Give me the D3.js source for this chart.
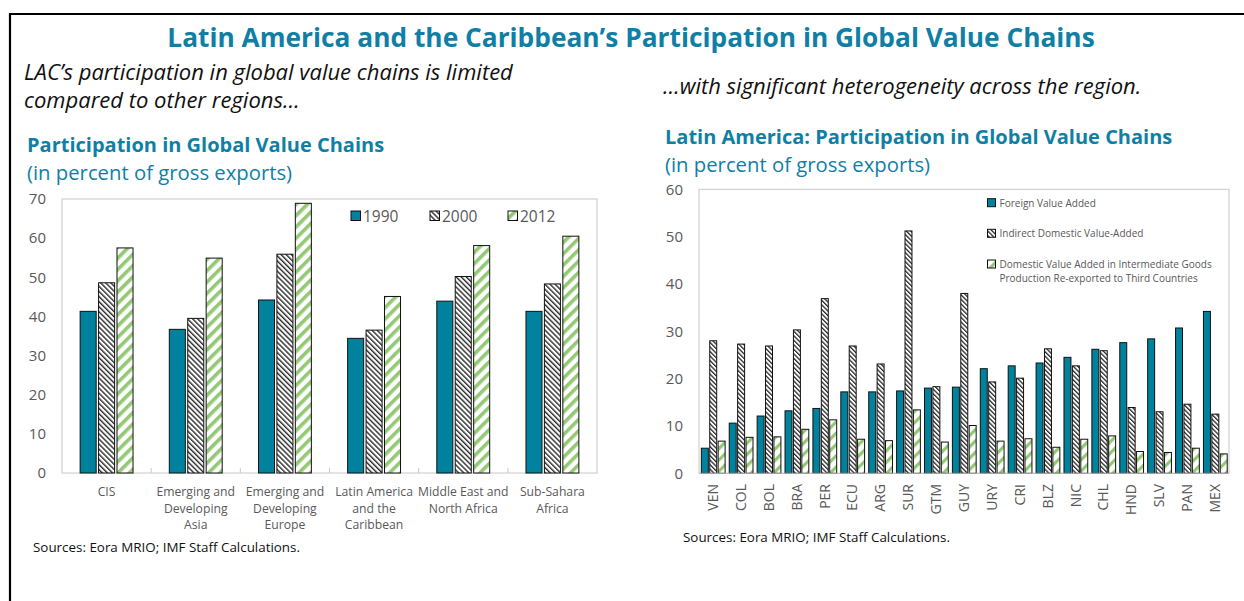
<!DOCTYPE html>
<html><head><meta charset="utf-8">
<script src="https://cdn.jsdelivr.net/npm/d3@7"></script>
<style>
html,body{margin:0;padding:0;background:#fff;}
svg{display:block;font-family:"Open Sans","Noto Sans",sans-serif;}
</style></head>
<body>
<svg id="c" width="1244" height="601"></svg>
<script>
// ---------- data ----------
const regions = ["CIS","Emerging and Developing Asia","Emerging and Developing Europe","Latin America and the Caribbean","Middle East and North Africa","Sub-Sahara Africa"];
const regionLabels = [["CIS"],["Emerging and","Developing","Asia"],["Emerging and","Developing","Europe"],["Latin America","and the","Caribbean"],["Middle East and","North Africa"],["Sub-Sahara","Africa"]];
const years = ["1990","2000","2012"];
const v1990 = [41.3,36.7,44.2,34.4,43.9,41.3];
const v2000 = [48.6,39.5,55.9,36.5,50.2,48.3];
const v2012 = [57.5,54.9,68.9,45.1,58.1,60.5];
const leftTicks = [0,10,20,30,40,50,60,70];

const countries = ["VEN","COL","BOL","BRA","PER","ECU","ARG","SUR","GTM","GUY","URY","CRI","BLZ","NIC","CHL","HND","SLV","PAN","MEX"];
const seriesNames = ["Foreign Value Added","Indirect Domestic Value-Added","Domestic Value Added in Intermediate Goods|Production Re-exported to Third Countries"];
const fva  = [5.3,10.6,12.1,13.2,13.7,17.2,17.2,17.4,18.0,18.2,22.1,22.7,23.3,24.5,26.2,27.6,28.4,30.7,34.2];
const idva = [28.0,27.3,26.9,30.3,36.9,26.9,23.1,51.2,18.3,38.0,19.3,20.1,26.3,22.7,25.9,13.9,13.0,14.6,12.5];
const dva  = [6.8,7.6,7.7,9.3,11.3,7.2,6.9,13.4,6.6,10.1,6.8,7.3,5.5,7.2,7.9,4.6,4.4,5.3,4.1];
const rightTicks = [0,10,20,30,40,50,60];

// ---------- styles ----------
const TEAL = "#0f7fa6";
const BAR = "#00829f";
const GRAY = "#595959";
const GREEN = "#93c975";

const svg = d3.select("#c");
const defs = svg.append("defs");
function hatch(id, color, size, width, dir){
  const p = defs.append("pattern").attr("id",id).attr("patternUnits","userSpaceOnUse")
    .attr("width",size).attr("height",size)
    .attr("patternTransform","rotate("+(dir>0?45:-45)+")");
  p.append("rect").attr("width",size).attr("height",size).attr("fill","#fff");
  p.append("rect").attr("x",0).attr("y",0).attr("width",width).attr("height",size).attr("fill",color);
}
hatch("h2000","#2a2a2a",3.6,1.4,-1);
hatch("h2012",GREEN,8,3.6,1);
hatch("hIdva","#2a2a2a",3.2,1.3,-1);
hatch("hDva",GREEN,8,3.2,1);

// ---------- frame ----------
svg.append("line").attr("x1",9).attr("x2",1244).attr("y1",14).attr("y2",14).attr("stroke","#000").attr("stroke-width",2.2);
svg.append("line").attr("x1",10).attr("x2",10).attr("y1",13).attr("y2",601).attr("stroke","#000").attr("stroke-width",2.2);

// ---------- titles ----------
svg.append("text").attr("x",631).attr("y",47).attr("text-anchor","middle")
  .attr("font-size",26.3).attr("font-weight","bold").attr("fill",TEAL)
  .text("Latin America and the Caribbean’s Participation in Global Value Chains");
const it = svg.append("g").attr("font-style","italic").attr("font-size",22).attr("fill","#111");
it.append("text").attr("x",24).attr("y",80).text("LAC’s participation in global value chains is limited");
it.append("text").attr("x",24).attr("y",108).text("compared to other regions…");
it.append("text").attr("x",663).attr("y",94).text("…with significant heterogeneity across the region.");

svg.append("text").attr("x",27).attr("y",152).attr("font-size",20).attr("font-weight","bold").attr("fill",TEAL).text("Participation in Global Value Chains");
svg.append("text").attr("x",27).attr("y",180).attr("font-size",20.3).attr("fill",TEAL).text("(in percent of gross exports)");
svg.append("text").attr("x",665).attr("y",144).attr("font-size",20).attr("font-weight","bold").attr("fill",TEAL).text("Latin America: Participation in Global Value Chains");
svg.append("text").attr("x",665).attr("y",172).attr("font-size",20.3).attr("fill",TEAL).text("(in percent of gross exports)");

svg.append("text").attr("x",33).attr("y",552).attr("font-size",13.4).attr("fill","#111").text("Sources: Eora MRIO; IMF Staff Calculations.");
svg.append("text").attr("x",683).attr("y",542).attr("font-size",13.4).attr("fill","#111").text("Sources: Eora MRIO; IMF Staff Calculations.");

// ---------- left chart ----------
(function(){
  const L=62,R=597,T=199,B=473;
  const y = d3.scaleLinear().domain([0,70]).range([B,T]);
  const x0 = d3.scaleBand().domain(regions).range([L,R]);
  const bw = x0.bandwidth();
  const x1 = d3.scaleBand().domain(years).range([bw*0.19,bw*0.81]).paddingInner(0.13).paddingOuter(0.065);
  const g = svg.append("g");
  g.append("rect").attr("x",L).attr("y",T).attr("width",R-L).attr("height",B-T).attr("fill","none").attr("stroke","#c8c8c8");
  const ya = g.append("g").attr("transform","translate("+L+",0)")
    .call(d3.axisLeft(y).tickValues(leftTicks).tickSize(0).tickPadding(16));
  ya.select(".domain").remove();
  ya.selectAll("text").attr("font-size",15).attr("fill",GRAY).attr("font-family","'Open Sans',sans-serif");
  // category boundary ticks
  g.selectAll(".bt").data(regions.slice(1)).enter().append("line")
    .attr("x1",d=>x0(d)).attr("x2",d=>x0(d)).attr("y1",B).attr("y2",B-5).attr("stroke","#c8c8c8");
  const series = [v1990,v2000,v2012];
  const fills = [BAR,"url(#h2000)","url(#h2012)"];
  years.forEach((yr,si)=>{
    g.selectAll(".b"+si).data(regions).enter().append("rect")
      .attr("x",(d)=>x0(d)+x1(yr)).attr("width",x1.bandwidth())
      .attr("y",(d,i)=>y(series[si][i])).attr("height",(d,i)=>B-y(series[si][i]))
      .attr("fill",fills[si]).attr("stroke","#111").attr("stroke-width",1);
  });
  // x labels
  regions.forEach((r,i)=>{
    const t = g.append("text").attr("text-anchor","middle").attr("font-size",12.2).attr("fill",GRAY);
    regionLabels[i].forEach((ln,j)=>{
      t.append("tspan").attr("x",x0(r)+bw/2).attr("y",496+j*16.5).text(ln);
    });
  });
  // legend
  const lx = [351,430,508];
  years.forEach((yr,i)=>{
    g.append("rect").attr("x",lx[i]).attr("y",211).attr("width",9.5).attr("height",9.5)
      .attr("fill",fills[i]).attr("stroke","#111");
    g.append("text").attr("x",lx[i]+12).attr("y",221.5).attr("font-size",15.5).attr("fill",GRAY).text(yr);
  });
})();

// ---------- right chart ----------
(function(){
  const L=699,R=1229,T=189.3,B=473.3;
  const y = d3.scaleLinear().domain([0,60]).range([B,T]);
  const x0 = d3.scaleBand().domain(countries).range([L,R]);
  const bw = x0.bandwidth();
  const keys = ["fva","idva","dva"];
  const x1 = d3.scaleBand().domain(keys).range([bw*0.06,bw*0.96]).paddingInner(0.17).paddingOuter(0.08);
  const g = svg.append("g");
  g.append("rect").attr("x",L).attr("y",T).attr("width",R-L).attr("height",B-T).attr("fill","none").attr("stroke","#c8c8c8");
  const ya = g.append("g").attr("transform","translate("+L+",0)")
    .call(d3.axisLeft(y).tickValues(rightTicks).tickSize(0).tickPadding(16));
  ya.select(".domain").remove();
  ya.selectAll("text").attr("font-size",15).attr("fill",GRAY).attr("font-family","'Open Sans',sans-serif");
  const series = [fva,idva,dva];
  const fills = [BAR,"url(#hIdva)","url(#hDva)"];
  keys.forEach((k,si)=>{
    g.selectAll(".r"+si).data(countries).enter().append("rect")
      .attr("x",d=>x0(d)+x1(k)).attr("width",x1.bandwidth())
      .attr("y",(d,i)=>y(series[si][i])).attr("height",(d,i)=>B-y(series[si][i]))
      .attr("fill",fills[si]).attr("stroke","#111").attr("stroke-width",1);
  });
  g.append("line").attr("x1",L).attr("x2",R).attr("y1",B).attr("y2",B).attr("stroke","#bbb");
  // x labels rotated
  g.selectAll(".xl").data(countries).enter().append("text")
    .attr("transform",d=>"translate("+(x0(d)+bw/2+5)+",484) rotate(-90)")
    .attr("text-anchor","end").attr("font-size",14).attr("fill",GRAY).text(d=>d);
  // legend
  const ly = [202.7,233.3,264];
  seriesNames.forEach((nm,i)=>{
    g.append("rect").attr("x",987.5).attr("y",ly[i]-4).attr("width",8).attr("height",8)
      .attr("fill",fills[i]).attr("stroke","#111");
    const parts = nm.split("|");
    parts.forEach((p,j)=>{
      g.append("text").attr("x",999.5).attr("y",ly[i]+3.8+j*14.3).attr("font-size",10).attr("fill",GRAY).text(p);
    });
  });
})();
</script>
</body></html>
